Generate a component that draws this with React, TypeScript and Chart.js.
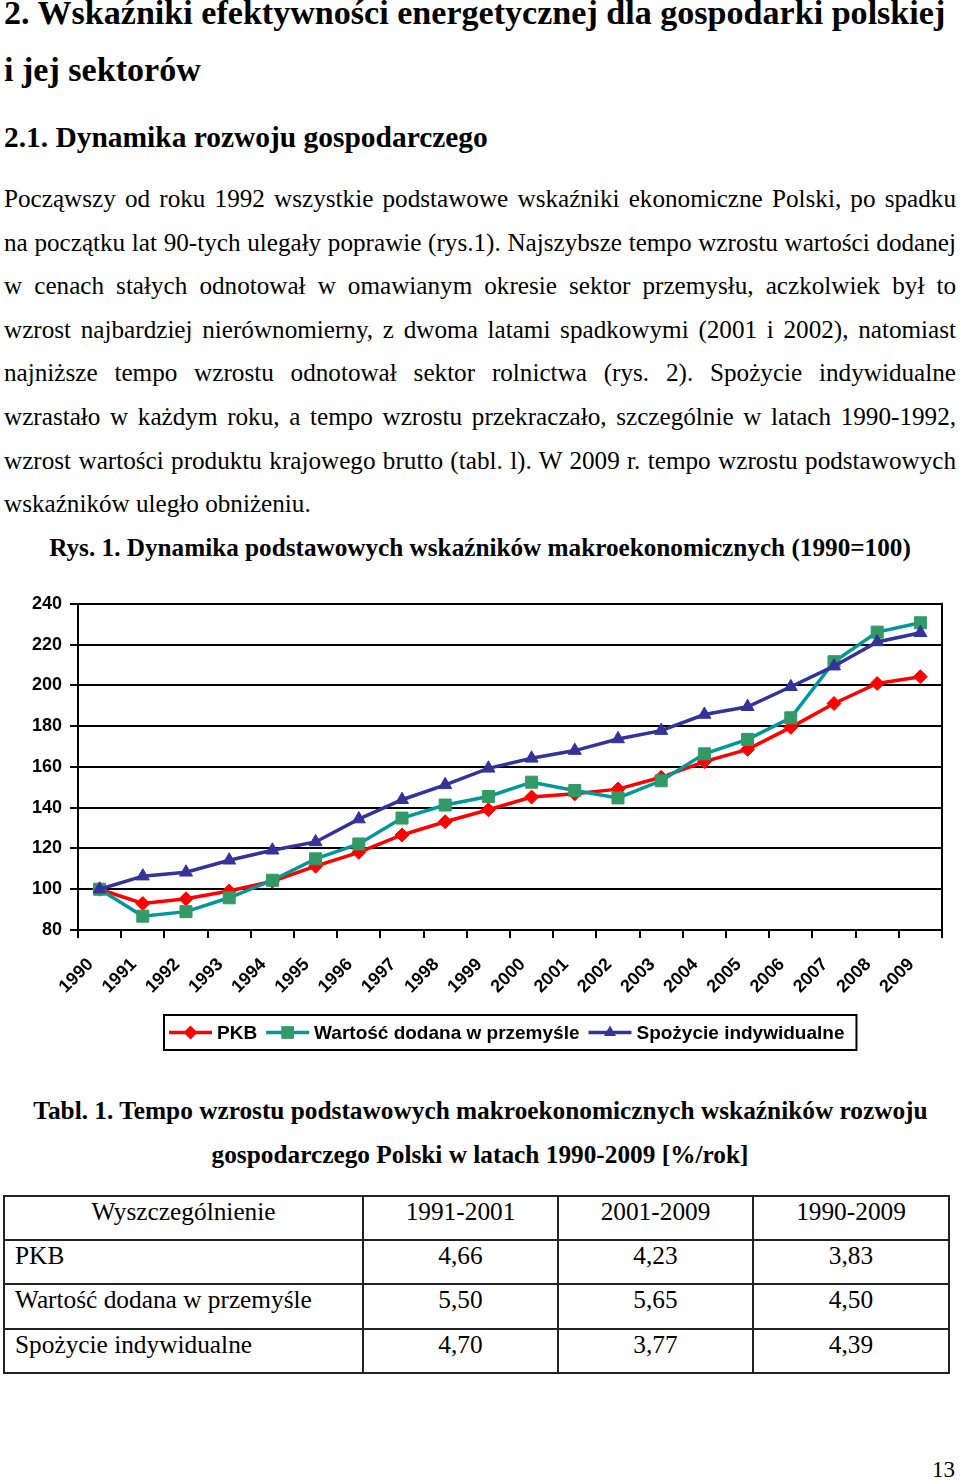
import React, { useEffect, useRef } from 'react';
import { Chart, registerables } from 'chart.js';

Chart.register(...registerables);

// ---------- data ----------
const years = ['1990', '1991', '1992', '1993', '1994', '1995', '1996', '1997', '1998', '1999', '2000', '2001', '2002', '2003', '2004', '2005', '2006', '2007', '2008', '2009'];
const pkb = [100, 93.0, 95.3, 99.1, 103.9, 111.3, 118.1, 126.6, 133.1, 139.0, 145.2, 146.8, 149.1, 154.9, 162.6, 168.6, 179.4, 191.1, 200.9, 204.2];
const przemysl = [100, 86.8, 89.0, 95.8, 104.4, 114.9, 122.2, 134.9, 141.3, 145.5, 152.5, 148.4, 144.8, 153.2, 166.4, 173.5, 184.1, 211.6, 226.1, 230.7];
const spozycie = [100, 106.4, 108.3, 114.2, 119.1, 123.2, 134.4, 143.9, 151.2, 159.3, 164.2, 168.0, 173.7, 177.8, 185.7, 189.5, 199.3, 209.4, 221.3, 225.8];
const seriesLabels = ['PKB', 'Wartość dodana w przemyśle', 'Spożycie indywidualne'];
const yMin = 80;
const yMax = 240;
const yStep = 20;

const tableHeader = ['Wyszczególnienie', '1991-2001', '2001-2009', '1990-2009'];
const tableRowLabels = ['PKB', 'Wartość dodana w przemyśle', 'Spożycie indywidualne'];
const tableCol1 = ['4,66', '5,50', '4,70'];
const tableCol2 = ['4,23', '5,65', '3,77'];
const tableCol3 = ['3,83', '4,50', '4,39'];

const headingLines = ['2. Wskaźniki efektywności energetycznej dla gospodarki polskiej', 'i jej sektorów'];
const subheading = '2.1. Dynamika rozwoju gospodarczego';
const paragraphLines = [
  'Począwszy od roku 1992 wszystkie podstawowe wskaźniki ekonomiczne Polski, po spadku',
  'na początku lat 90-tych ulegały poprawie (rys.1). Najszybsze tempo wzrostu wartości dodanej',
  'w cenach stałych odnotował w omawianym okresie sektor przemysłu, aczkolwiek był to',
  'wzrost najbardziej nierównomierny, z dwoma latami spadkowymi (2001 i 2002), natomiast',
  'najniższe tempo wzrostu odnotował sektor rolnictwa (rys. 2). Spożycie indywidualne',
  'wzrastało w każdym roku, a tempo wzrostu przekraczało, szczególnie w latach 1990-1992,',
  'wzrost wartości produktu krajowego brutto (tabl. l). W 2009 r. tempo wzrostu podstawowych',
  'wskaźników uległo obniżeniu.',
];
const figureCaption = 'Rys. 1. Dynamika podstawowych wskaźników makroekonomicznych (1990=100)';
const tableCaption = ['Tabl. 1. Tempo wzrostu podstawowych makroekonomicznych wskaźników rozwoju', 'gospodarczego Polski w latach 1990-2009 [%/rok]'];
const pageNumber = '13';

// ---------- styling ----------
const SERIF = '"Liberation Serif", "Times New Roman", serif';
const SANS = '"Liberation Sans", Arial, sans-serif';
const RED = '#FF0000';
const TEAL = '#009999';
const GREEN = '#339966';
const BLUE = '#333399';

let measureCtx: CanvasRenderingContext2D | null = null;
function textWidth(text: string, weight: string, family: string, size: number): number {
  if (!measureCtx) measureCtx = document.createElement('canvas').getContext('2d');
  measureCtx!.font = `${weight} ${size}px ${family}`;
  return measureCtx!.measureText(text).width;
}
function fitSize(text: string, weight: string, width: number): number {
  return (100 * width) / textWidth(text, weight, SERIF, 100);
}

type TProps = {
  x: number;
  base: number;
  size: number;
  bold?: boolean;
  width?: number;
  align?: 'left' | 'center' | 'justify';
  children: React.ReactNode;
};
function T({ x, base, size, bold, width, align, children }: TProps) {
  const style: React.CSSProperties = {
    position: 'absolute',
    left: x,
    top: base - 0.8375 * size,
    fontFamily: SERIF,
    fontSize: size,
    lineHeight: `${size}px`,
    fontWeight: bold ? 700 : 400,
    color: '#000',
    whiteSpace: align === 'justify' ? 'normal' : 'nowrap',
  };
  if (width !== undefined) style.width = width;
  if (align === 'center') style.textAlign = 'center';
  if (align === 'justify') {
    style.textAlign = 'justify';
    (style as any).textAlignLast = 'justify';
  }
  return <div style={style}>{children}</div>;
}

// ---------- chart plugins ----------
function drawMarker(ctx: CanvasRenderingContext2D, style: string, x: number, y: number, r: number, fill: string) {
  ctx.beginPath();
  if (style === 'rectRot') {
    ctx.moveTo(x, y - r);
    ctx.lineTo(x + r, y);
    ctx.lineTo(x, y + r);
    ctx.lineTo(x - r, y);
  } else if (style === 'rect') {
    const s = r * Math.SQRT1_2;
    ctx.rect(x - s, y - s, 2 * s, 2 * s);
  } else {
    for (let i = 0; i < 3; i++) {
      const a = (i * 2 * Math.PI) / 3;
      const px = x + Math.sin(a) * r;
      const py = y - Math.cos(a) * r;
      if (i === 0) ctx.moveTo(px, py);
      else ctx.lineTo(px, py);
    }
  }
  ctx.closePath();
  ctx.fillStyle = fill;
  ctx.fill();
}

const framePlugin = {
  id: 'framePlugin',
  beforeDatasetsDraw(chart: any) {
    const { ctx, chartArea } = chart;
    ctx.save();
    ctx.strokeStyle = '#000';
    ctx.lineWidth = 2;
    ctx.beginPath();
    ctx.moveTo(chartArea.right, chartArea.top - 1);
    ctx.lineTo(chartArea.right, chartArea.bottom);
    ctx.stroke();
    ctx.restore();
  },
};

const legendPlugin = {
  id: 'boxLegend',
  afterDraw(chart: any) {
    const { ctx, chartArea } = chart;
    const datasets = chart.data.datasets;
    ctx.save();
    const fontSize = 19;
    ctx.font = `bold ${fontSize}px ${SANS}`;
    const lineLen = 43;
    const gapLineText = 5;
    const gapTextLine = 9;
    const padL = 5;
    const padR = 12;
    const widths = datasets.map((d: any) => ctx.measureText(d.label).width);
    let total = padL + padR;
    widths.forEach((w: number, i: number) => {
      total += lineLen + gapLineText + w + (i < widths.length - 1 ? gapTextLine : 0);
    });
    const cx = (chartArea.left + chartArea.right) / 2;
    const left = Math.round(cx - total / 2);
    const top = 430;
    const h = 35;
    ctx.strokeStyle = '#000';
    ctx.lineWidth = 2;
    ctx.strokeRect(left, top, total, h);
    const cy = top + h / 2;
    let x = left + padL;
    datasets.forEach((d: any, i: number) => {
      ctx.strokeStyle = d.borderColor;
      ctx.lineWidth = 3.5;
      ctx.beginPath();
      ctx.moveTo(x, cy);
      ctx.lineTo(x + lineLen, cy);
      ctx.stroke();
      drawMarker(ctx, d.pointStyle, x + lineLen / 2, cy, d.pointStyle === 'rect' ? 9 : 7, d.pointBackgroundColor);
      x += lineLen + gapLineText;
      ctx.fillStyle = '#000';
      ctx.textBaseline = 'middle';
      ctx.textAlign = 'left';
      ctx.fillText(d.label, x, cy + 1);
      x += widths[i] + gapTextLine;
    });
    ctx.restore();
  },
};

function LineChart() {
  const ref = useRef<HTMLCanvasElement>(null);
  useEffect(() => {
    const chart = new Chart(ref.current as HTMLCanvasElement, {
      type: 'line',
      data: {
        labels: years,
        datasets: [
          {
            label: seriesLabels[0],
            data: pkb,
            borderColor: RED,
            backgroundColor: RED,
            pointBackgroundColor: RED,
            pointBorderColor: RED,
            pointStyle: 'rectRot',
            pointRadius: 7,
            pointBorderWidth: 1,
            borderWidth: 3.5,
            tension: 0,
            order: 3,
          },
          {
            label: seriesLabels[1],
            data: przemysl,
            borderColor: TEAL,
            backgroundColor: GREEN,
            pointBackgroundColor: GREEN,
            pointBorderColor: GREEN,
            pointStyle: 'rect',
            pointRadius: 8.5,
            pointBorderWidth: 1,
            borderWidth: 3.5,
            tension: 0,
            order: 2,
          },
          {
            label: seriesLabels[2],
            data: spozycie,
            borderColor: BLUE,
            backgroundColor: BLUE,
            pointBackgroundColor: BLUE,
            pointBorderColor: BLUE,
            pointStyle: 'triangle',
            pointRadius: 7.5,
            pointBorderWidth: 1,
            borderWidth: 3.5,
            tension: 0,
            order: 1,
          },
        ] as any,
      },
      options: {
        responsive: false,
        animation: false,
        devicePixelRatio: 1,
        layout: { padding: { top: 18, right: 18, bottom: 65, left: 0 } },
        plugins: { legend: { display: false }, tooltip: { enabled: false } },
        scales: {
          x: {
            type: 'category',
            offset: true,
            grid: {
              display: true,
              drawOnChartArea: false,
              drawTicks: true,
              tickLength: 8,
              color: '#000',
              lineWidth: 2,
              offset: true,
            },
            border: { display: true, color: '#000', width: 2 },
            ticks: {
              autoSkip: false,
              maxRotation: 45,
              minRotation: 45,
              padding: 16,
              labelOffset: -9,
              color: '#000',
              font: { family: SANS, size: 18, weight: 'bold' },
            },
            afterFit: (s: any) => {
              s.height = 70;
            },
          },
          y: {
            min: yMin,
            max: yMax,
            grid: { color: '#000', lineWidth: 2, tickLength: 8, drawTicks: true },
            border: { display: true, color: '#000', width: 2 },
            ticks: {
              stepSize: yStep,
              padding: 8,
              color: '#000',
              font: { family: SANS, size: 18, weight: 'bold' },
            },
            afterFit: (s: any) => {
              s.width = 78;
            },
          },
        },
      } as any,
      plugins: [framePlugin, legendPlugin],
    });
    return () => chart.destroy();
  }, []);
  return (
    <canvas
      ref={ref}
      width={960}
      height={480}
      style={{ position: 'absolute', left: 0, top: 585, width: 960, height: 480 }}
    />
  );
}

function DataTable() {
  const cols = [4, 363, 558, 753, 949];
  const rows = [1196, 1240, 1284, 1329, 1373];
  const size = fitSize(tableRowLabels[1], '400', 297);
  const border = '#222';
  const lines: React.ReactNode[] = [];
  rows.forEach((y, i) =>
    lines.push(
      <div key={'h' + i} style={{ position: 'absolute', left: cols[0] - 1, top: y - 1, width: cols[4] - cols[0] + 2, height: 2, background: border }} />
    )
  );
  cols.forEach((x, i) =>
    lines.push(
      <div key={'v' + i} style={{ position: 'absolute', left: x - 1, top: rows[0] - 1, width: 2, height: rows[4] - rows[0] + 2, background: border }} />
    )
  );
  const values = [tableCol1, tableCol2, tableCol3];
  const texts: React.ReactNode[] = [];
  tableHeader.forEach((h, c) =>
    texts.push(
      <T key={'th' + c} x={cols[c]} width={cols[c + 1] - cols[c]} base={rows[0] + 24} size={size} align="center">
        {h}
      </T>
    )
  );
  tableRowLabels.forEach((label, r) => {
    const base = rows[r + 1] + 24;
    texts.push(
      <T key={'rl' + r} x={15} base={base} size={size}>
        {label}
      </T>
    );
    values.forEach((col, c) =>
      texts.push(
        <T key={'v' + r + c} x={cols[c + 1]} width={cols[c + 2] - cols[c + 1]} base={base} size={size} align="center">
          {col[r]}
        </T>
      )
    );
  });
  return (
    <>
      {lines}
      {texts}
    </>
  );
}

export default function App() {
  const hSize = fitSize(headingLines[0], 'bold', 942);
  const subSize = fitSize(subheading, 'bold', 484);
  const pSize = Math.min(...paragraphLines.slice(0, 7).map((l) => fitSize(l, '400', 952))) * 0.996;
  const capSize = fitSize(figureCaption, 'bold', 862);
  const tcapSize = fitSize(tableCaption[0], 'bold', 895);
  const pBase0 = 207;
  const pStep = 43.6;
  return (
    <div style={{ position: 'absolute', left: 0, top: 0, width: 960, height: 1480, background: '#fff', overflow: 'hidden' }}>
      <T x={4} base={25} size={hSize} bold>
        {headingLines[0]}
      </T>
      <T x={4} base={82} size={hSize} bold>
        {headingLines[1]}
      </T>
      <T x={4} base={148} size={subSize} bold>
        {subheading}
      </T>
      {paragraphLines.map((line, i) => (
        <T
          key={i}
          x={4}
          base={pBase0 + i * pStep}
          size={pSize}
          width={i < paragraphLines.length - 1 ? 952 : undefined}
          align={i < paragraphLines.length - 1 ? 'justify' : 'left'}
        >
          {line}
        </T>
      ))}
      <T x={0} width={960} base={556} size={capSize} bold align="center">
        {figureCaption}
      </T>
      <LineChart />
      <T x={0} width={961} base={1119} size={tcapSize} bold align="center">
        {tableCaption[0]}
      </T>
      <T x={0} width={960} base={1163} size={tcapSize} bold align="center">
        {tableCaption[1]}
      </T>
      <DataTable />
      <T x={932} base={1477} size={fitSize(pageNumber, '400', 23)}>
        {pageNumber}
      </T>
    </div>
  );
}
